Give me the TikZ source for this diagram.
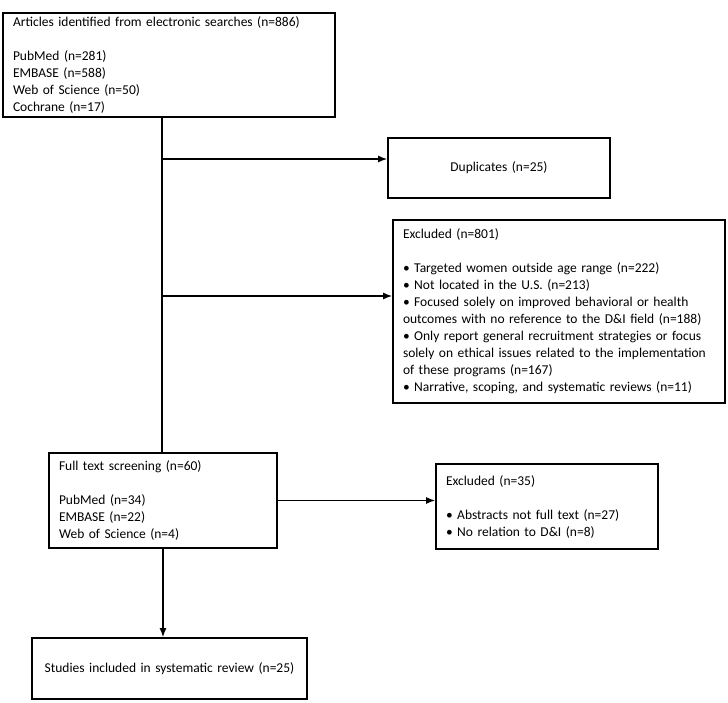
\documentclass[tikz,border=0pt]{standalone}
\usepackage{fontspec}
\setmainfont{Carlito}
\usetikzlibrary{arrows.meta}

\begin{document}
\begin{tikzpicture}[x=1pt,y=-1pt,
    flowbox/.style={draw,line width=1.6pt,align=left,inner xsep=10pt,inner ysep=0pt,
      font=\fontsize{13.5}{17}\selectfont},
    flowarrow/.style={line width=1.5pt,-{Latex[length=9pt,width=7pt]}}]
  \useasboundingbox (0,0) rectangle (728,703);
  \node[flowbox,text width=312pt,minimum height=104pt] (search) at (169,65)
    {Articles identified from electronic searches (n=886)\\[17pt]
     PubMed (n=281)\\ EMBASE (n=588)\\ Web of Science (n=50)\\ Cochrane (n=17)};
  \node[flowbox,align=center,text width=202pt,minimum height=60pt] (dup) at (499,168)
    {Duplicates (n=25)};
  \node[flowbox,text width=312pt,minimum height=183pt] (excl) at (559,311.5)
    {Excluded (n=801)\\[17pt]
     • Targeted women outside age range (n=222)\\
     • Not located in the U.S. (n=213)\\
     • Focused solely on improved behavioral or health\\
     outcomes with no reference to the D\&I field (n=188)\\
     • Only report general recruitment strategies or focus\\
     solely on ethical issues related to the implementation\\
     of these programs (n=167)\\
     • Narrative, scoping, and systematic reviews (n=11)};
  \node[flowbox,text width=208pt,minimum height=95pt] (full) at (163,500.5)
    {Full text screening (n=60)\\[17pt]
     PubMed (n=34)\\ EMBASE (n=22)\\ Web of Science (n=4)};
  \node[flowbox,text width=202pt,minimum height=85pt] (exclft) at (547,506.5)
    {Excluded (n=35)\\[17pt]
     • Abstracts not full text (n=27)\\
     • No relation to D\&I (n=8)};
  \node[flowbox,align=center,text width=255pt,minimum height=61pt] (incl) at (169.5,668.5)
    {Studies included in systematic review (n=25)};
  % spine and side arrows
  \coordinate (j1) at (162,159);
  \coordinate (j2) at (162,296);
  \draw[line width=1.5pt] (search.south -| j1) -- (full.north -| j1);
  \draw[flowarrow] (j1) -- (dup.west |- j1);
  \draw[flowarrow] (j2) -- (excl.west |- j2);
  \draw[flowarrow] (full.east) -- (exclft.west |- full.east);
  \draw[flowarrow] (full.south) -- (incl.north -| full.south);
\end{tikzpicture}
\end{document}
